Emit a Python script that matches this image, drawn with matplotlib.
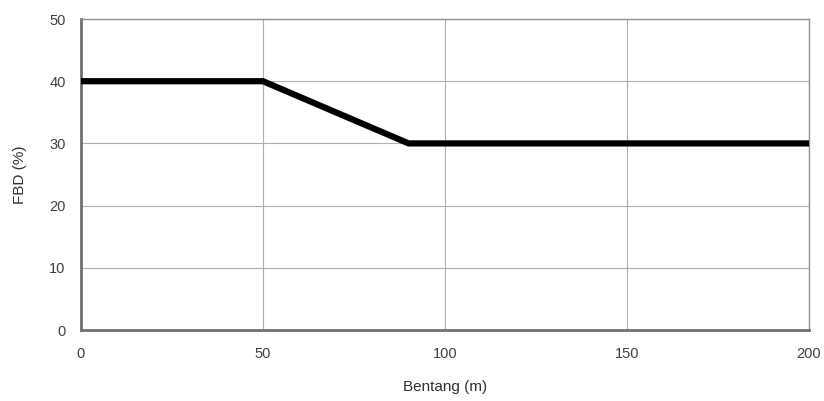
import matplotlib
matplotlib.use("Agg")
import matplotlib.pyplot as plt

# span (m) vs dynamic load factor (%)
bentang = [0, 50, 90, 200]
fbd = [40, 40, 30, 30]

x_ticks = [0, 50, 100, 150, 200]
y_ticks = [0, 10, 20, 30, 40, 50]

plt.rcParams["font.family"] = ["Liberation Sans", "DejaVu Sans"]

fig = plt.figure(figsize=(8.24, 4.01), dpi=100)
ax = fig.add_axes([0.0983, 0.177, 0.8835, 0.7756])

ax.plot(bentang, fbd, color="black", linewidth=4.5, solid_capstyle="butt",
        solid_joinstyle="miter", zorder=3)

ax.set_xlim(0, 200)
ax.set_ylim(0, 50)
ax.set_xticks(x_ticks)
ax.set_yticks(y_ticks)
ax.grid(True, color="#b0b0b0", linewidth=0.8)
ax.set_axisbelow(True)

for side in ["left", "bottom"]:
    ax.spines[side].set_color("#707070")
    ax.spines[side].set_linewidth(2.0)
for side in ["top", "right"]:
    ax.spines[side].set_color("#909090")
    ax.spines[side].set_linewidth(1.0)

ax.tick_params(length=0, labelsize=10.5, colors="#404040")
ax.tick_params(axis="x", pad=12)
ax.tick_params(axis="y", pad=11)
ax.set_xlabel("Bentang (m)", fontsize=11, color="#303030", labelpad=14)
ax.set_ylabel("FBD (%)", fontsize=11, color="#303030", labelpad=16)

fig.savefig("out.png", dpi=100)
